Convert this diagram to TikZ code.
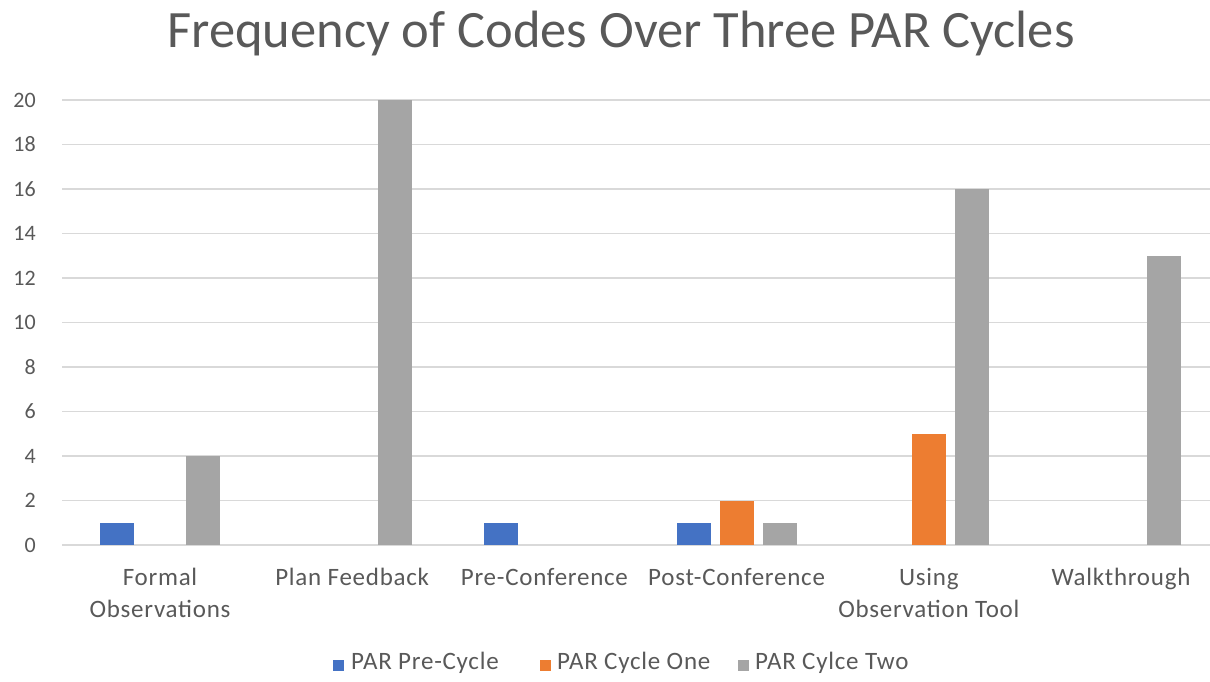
\documentclass[tikz,border=0pt]{standalone}
\usepackage{fontspec}
\setmainfont{Carlito}
\newfontfamily\spacedfont{Carlito}[LetterSpace=3]
\definecolor{txt}{HTML}{595959}
\definecolor{grid}{HTML}{D9D9D9}
\definecolor{cblue}{HTML}{4472C4}
\definecolor{corange}{HTML}{ED7D31}
\definecolor{cgray}{HTML}{A5A5A5}
\tikzset{
  gridline/.style={draw=grid, line width=1.6pt},
  ylab/.style={anchor=east, text=txt, font=\fontsize{22}{22}\selectfont, inner sep=0pt},
  catlab/.style={anchor=north, text=txt, font=\spacedfont\fontsize{25}{32}\selectfont, align=center, inner sep=0pt},
  legtxt/.style={anchor=west, text=txt, font=\spacedfont\fontsize{25}{25}\selectfont, inner sep=0pt},
  legsq/.style={minimum size=11pt, inner sep=0pt},
}
\begin{document}
\begin{tikzpicture}[x=1pt,y=-1pt]
\useasboundingbox[fill=white] (0,0) rectangle (1210,682);
% title
\node[text=txt, font=\fontsize{52.5}{52.5}\selectfont, inner sep=0pt] (title) at (621,34) {Frequency of Codes Over Three PAR Cycles};
% grid and y labels
\foreach \v in {0,2,...,20} {
  \pgfmathsetmacro{\yy}{545-\v*22.25}
  \draw[gridline] (62,\yy) -- (1210,\yy);
  \node[ylab] (y\v) at (36,\yy) {\v};
}
% bars
\foreach \c/\a/\b/\d in {0/1/0/4, 1/0/0/20, 2/1/0/0, 3/1/2/1, 4/0/5/16, 5/0/0/13} {
  \pgfmathsetmacro{\cx}{160+\c*192.2}
  \ifdim\a pt>0pt \fill[cblue] ({\cx-43-17},545) rectangle ({\cx-43+17},{545-\a*22.25}); \fi
  \ifdim\b pt>0pt \fill[corange] ({\cx-17},545) rectangle ({\cx+17},{545-\b*22.25}); \fi
  \ifdim\d pt>0pt \fill[cgray] ({\cx+43-17},545) rectangle ({\cx+43+17},{545-\d*22.25}); \fi
}
% category labels
\node[catlab] (c1) at (160,568) {Formal\\Observations};
\node[catlab] (c2) at (352.2,568) {Plan Feedback};
\node[catlab] (c3) at (544.4,568) {Pre-Conference};
\node[catlab] (c4) at (736.6,568) {Post-Conference};
\node[catlab] (c5) at (928.8,568) {Using\\Observation Tool};
\node[catlab] (c6) at (1121,568) {Walkthrough};
% legend
\node[legsq, fill=cblue] (l1) at (338,665) {};
\node[legtxt] (t1) at (351,663) {PAR Pre-Cycle};
\node[legsq, fill=corange] (l2) at (545,665) {};
\node[legtxt] (t2) at (557,663) {PAR Cycle One};
\node[legsq, fill=cgray] (l3) at (743,665) {};
\node[legtxt] (t3) at (755,663) {PAR Cylce Two};
\end{tikzpicture}
\end{document}
